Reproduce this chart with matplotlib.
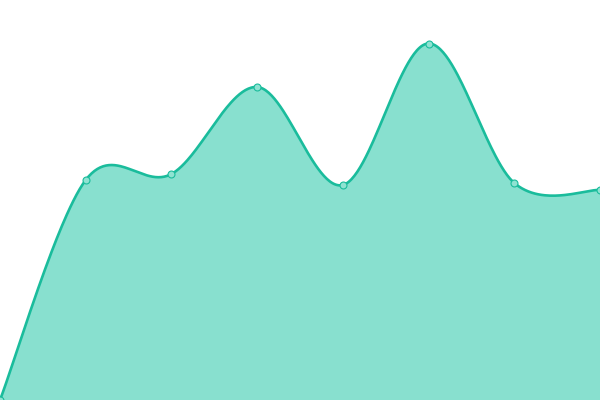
import numpy as np
import matplotlib
matplotlib.use("Agg")
import matplotlib.pyplot as plt

labels = ["A", "B", "C", "D", "E", "F", "G", "H"]
values = [0, 220, 226, 313, 215, 356.5, 217, 210]

x = np.arange(len(values), dtype=float)
y = np.array(values, dtype=float)

def cardinal(xs, ys, tension=0.0, n=60):
    pts = np.column_stack([xs, ys])
    N = len(pts)
    out = []
    for i in range(N - 1):
        p0 = pts[i - 1] if i > 0 else pts[i]
        p1 = pts[i]
        p2 = pts[i + 1]
        p3 = pts[i + 2] if i + 2 < N else pts[i + 1]
        k = (1 - tension) / 6.0
        c1 = p1 + (p2 - p0) * k
        c2 = p2 - (p3 - p1) * k
        t = np.linspace(0, 1, n)[:, None]
        seg = ((1 - t) ** 3) * p1 + 3 * ((1 - t) ** 2) * t * c1 + 3 * (1 - t) * t ** 2 * c2 + t ** 3 * p2
        if i > 0:
            seg = seg[1:]
        out.append(seg)
    c = np.vstack(out)
    return c[:, 0], c[:, 1]

cx, cy = cardinal(x, y)

fig = plt.figure(figsize=(6, 4), dpi=100)
ax = fig.add_axes([0, 0, 1, 1])
ax.fill_between(cx, cy, 0, color="#88e0cf", linewidth=0, zorder=1)
ax.plot(cx, cy, color="#1abc9c", linewidth=1.9, zorder=2, solid_capstyle="round")
ax.plot(x, y, linestyle="none", marker="o", markersize=5, markerfacecolor="#8fe3d2",
        markeredgecolor="#1abc9c", markeredgewidth=0.8, zorder=3, clip_on=True)
ax.set_xlim(0, len(values) - 1)
ax.set_ylim(0, 400)
ax.axis("off")
fig.savefig("out.png", dpi=100)
